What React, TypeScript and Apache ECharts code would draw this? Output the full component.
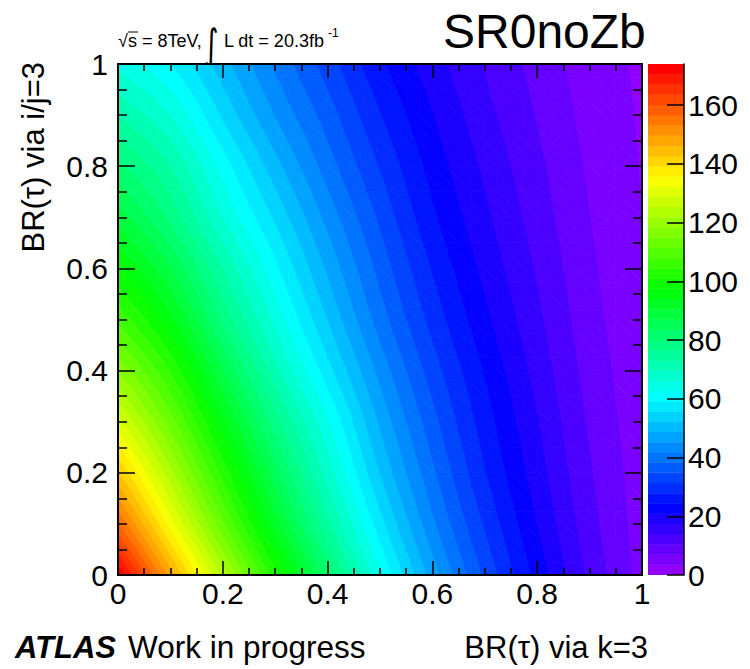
import React, { useEffect, useRef } from "react";
import * as echarts from "echarts";

const FONT = '"Liberation Sans", Arial, Helvetica, sans-serif';

// Grid nodes along BR(τ) via k=3 (x) and BR(τ) via i/j=3 (y)
const xNodes = [0, 0.1, 0.2, 0.3, 0.4, 0.5, 0.6, 0.7, 0.8, 0.9, 1.0];
const yNodes = [0, 0.1, 0.2, 0.3, 0.4, 0.5, 0.6, 0.7, 0.8, 0.9, 1.0];

// Expected yield at every node, one array per y row (x increasing)
const rowY00 = [174, 148, 124, 102, 82, 63, 47, 34, 23, 13, 5.5];
const rowY01 = [157, 134, 112, 92, 74, 57, 42.5, 30.8, 20.8, 11.8, 5.2];
const rowY02 = [143, 123, 103, 85, 68, 52, 39, 28, 19, 10.8, 5.0];
const rowY03 = [130, 113, 95, 78, 63, 48, 36, 26, 17.6, 9.9, 4.7];
const rowY04 = [118, 104, 87, 71, 57, 44, 33, 24, 16.1, 9.1, 4.4];
const rowY05 = [107, 95, 79, 65, 52, 40, 30, 21.8, 14.7, 8.3, 4.1];
const rowY06 = [98, 87, 73, 60, 48, 37, 27.5, 19.9, 13.5, 7.6, 3.8];
const rowY07 = [89, 79, 66, 55, 44, 34, 25, 18.2, 12.3, 7.0, 3.5];
const rowY08 = [81, 73, 61, 50, 40, 31, 23, 16.7, 11.3, 6.4, 3.3];
const rowY09 = [73, 66, 55, 45, 36.5, 28, 21, 15.1, 10.2, 5.8, 3.1];
const rowY10 = [65, 59, 50, 41, 33, 25, 19, 13.6, 9.2, 5.2, 2.9];
const zRows = [rowY00, rowY01, rowY02, rowY03, rowY04, rowY05, rowY06, rowY07, rowY08, rowY09, rowY10];

const nContours = 50;
const zAxisTicks = [0, 20, 40, 60, 80, 100, 120, 140, 160];

const xAxisTitle = "BR(τ) via k=3";
const yAxisTitle = "BR(τ) via i/j=3";
const regionName = "SR0noZb";

const zMax = Math.max(...zRows.flat());
const zStep = zMax / nContours;
const SUB = 4; // sub-steps per cell for the smooth contour surface

// Violet -> red spectrum, one colour per contour band
function bandColor(k: number): string {
  const h = 280 - ((k + 1) * 280) / nContours;
  const f = (n: number) => {
    const kk = (n + h / 30) % 12;
    return 0.5 - 0.5 * Math.max(-1, Math.min(kk - 3, 9 - kk, 1));
  };
  return `rgb(${Math.round(f(0) * 255)},${Math.round(f(8) * 255)},${Math.round(f(4) * 255)})`;
}

// node value with linear extension past the edges
function nodeZ(r: number, c: number): number {
  const nr = zRows.length;
  const nc = zRows[0].length;
  if (r < 0) return 2 * nodeZ(0, c) - nodeZ(1, c);
  if (r > nr - 1) return 2 * nodeZ(nr - 1, c) - nodeZ(nr - 2, c);
  if (c < 0) return 2 * nodeZ(r, 0) - nodeZ(r, 1);
  if (c > nc - 1) return 2 * nodeZ(r, nc - 1) - nodeZ(r, nc - 2);
  return zRows[r][c];
}

function catmull(p0: number, p1: number, p2: number, p3: number, t: number): number {
  return 0.5 * (2 * p1 + (-p0 + p2) * t + (2 * p0 - 5 * p1 + 4 * p2 - p3) * t * t + (-p0 + 3 * p1 - 3 * p2 + p3) * t * t * t);
}

// smooth surface inside cell (i, j) at fractional position (tx, ty)
function surface(i: number, j: number, tx: number, ty: number): number {
  const rows = [-1, 0, 1, 2].map((dr) =>
    catmull(nodeZ(j + dr, i - 1), nodeZ(j + dr, i), nodeZ(j + dr, i + 1), nodeZ(j + dr, i + 2), tx)
  );
  return catmull(rows[0], rows[1], rows[2], rows[3], ty);
}

type P = [number, number, number];

// keep the part of a polygon where v >= t (above) or v <= t (below)
function clipPoly(poly: P[], t: number, above: boolean): P[] {
  const out: P[] = [];
  for (let i = 0; i < poly.length; i++) {
    const a = poly[i];
    const b = poly[(i + 1) % poly.length];
    const ina = above ? a[2] >= t : a[2] <= t;
    const inb = above ? b[2] >= t : b[2] <= t;
    if (ina) out.push(a);
    if (ina !== inb) {
      const f = (t - a[2]) / (b[2] - a[2]);
      out.push([a[0] + f * (b[0] - a[0]), a[1] + f * (b[1] - a[1]), t]);
    }
  }
  return out;
}

function bandPolygons(tri: P[]) {
  const vs = tri.map((p) => p[2]);
  const vmin = Math.min(...vs);
  const vmax = Math.max(...vs);
  const kMin = Math.max(0, Math.floor(vmin / zStep));
  const kMax = Math.min(nContours - 1, Math.floor(vmax / zStep));
  const out: { k: number; points: number[][] }[] = [];
  for (let k = kMin; k <= kMax; k++) {
    let poly = tri;
    if (k > 0) poly = clipPoly(poly, k * zStep, true);
    if (k < nContours - 1) poly = clipPoly(poly, (k + 1) * zStep, false);
    if (poly.length >= 3) out.push({ k, points: poly.map((p) => [p[0], p[1]]) });
  }
  return out;
}

const cellData: number[][] = [];
for (let j = 0; j < yNodes.length - 1; j++) {
  for (let i = 0; i < xNodes.length - 1; i++) {
    cellData.push([xNodes[i], yNodes[j], xNodes[i + 1], yNodes[j + 1], i, j]);
  }
}

// colour-scale bands: [x centre, lower edge, upper edge, band index]
const paletteData = Array.from({ length: nContours }, (_, k) => [0.5, k * zStep, (k + 1) * zStep, k]);

const txt = (extra: any) => ({
  fill: "#000",
  fontFamily: FONT,
  align: "left",
  verticalAlign: "middle",
  textAlign: "left",
  textVerticalAlign: "middle",
  ...extra,
});

export default function App() {
  const ref = useRef<HTMLDivElement>(null);

  useEffect(() => {
    if (!ref.current) return;
    const chart = echarts.init(ref.current, null, { renderer: "svg" });

    const tickLine = { color: "#000", width: 1.5 };
    const frameLine = { show: true, onZero: false, lineStyle: { color: "#000", width: 2 } };

    const xTicks = {
      axisTick: { show: true, inside: true, length: 14, lineStyle: tickLine },
      minorTick: { show: true, splitNumber: 4, length: 7, lineStyle: tickLine },
    };
    const yTicks = {
      axisTick: { show: true, inside: true, length: 17, lineStyle: tickLine },
      minorTick: { show: true, splitNumber: 4, length: 9, lineStyle: tickLine },
    };
    const labelStyle = { color: "#000", fontSize: 30, fontFamily: FONT };

    chart.setOption({
      animation: false,
      backgroundColor: "#fff",
      grid: [
        { left: 118, top: 64, width: 524, height: 511 },
        { left: 648, top: 64, width: 36, height: 511 },
      ],
      xAxis: [
        {
          type: "value", gridIndex: 0, position: "bottom", min: 0, max: 1, interval: 0.2, z: 5,
          axisLine: frameLine, ...xTicks, splitLine: { show: false },
          axisLabel: { ...labelStyle, margin: 3 },
        },
        {
          type: "value", gridIndex: 0, position: "top", min: 0, max: 1, interval: 0.2, z: 5,
          axisLine: frameLine, ...xTicks, splitLine: { show: false },
          axisLabel: { show: false },
        },
        { type: "value", gridIndex: 1, min: 0, max: 1, show: false },
      ],
      yAxis: [
        {
          type: "value", gridIndex: 0, position: "left", min: 0, max: 1, interval: 0.2, z: 5,
          axisLine: frameLine, ...yTicks, splitLine: { show: false },
          axisLabel: { ...labelStyle, margin: 10 },
        },
        {
          type: "value", gridIndex: 0, position: "right", min: 0, max: 1, interval: 0.2, z: 5,
          axisLine: frameLine, ...yTicks, splitLine: { show: false },
          axisLabel: { show: false },
        },
        {
          type: "value", gridIndex: 1, position: "right", min: 0, max: zMax, z: 5,
          axisLine: { show: true, onZero: false, lineStyle: { color: "#000", width: 1.5 } },
          axisTick: { show: true, inside: true, length: 17, lineStyle: tickLine, customValues: zAxisTicks },
          minorTick: { show: false },
          splitLine: { show: false },
          axisLabel: { ...labelStyle, margin: 4, customValues: zAxisTicks },
        },
      ],
      series: [
        {
          type: "custom",
          xAxisIndex: 0,
          yAxisIndex: 0,
          clip: true,
          silent: true,
          encode: { x: [0, 2], y: [1, 3] },
          data: cellData,
          renderItem: (_params: any, api: any) => {
            const x0 = api.value(0), y0 = api.value(1), x1 = api.value(2), y1 = api.value(3);
            const ci = api.value(4), cj = api.value(5);
            const pts: P[][] = [];
            for (let a = 0; a <= SUB; a++) {
              pts.push([]);
              for (let b = 0; b <= SUB; b++) {
                const px = api.coord([x0 + ((x1 - x0) * a) / SUB, y0 + ((y1 - y0) * b) / SUB]);
                pts[a].push([px[0], px[1], surface(ci, cj, a / SUB, b / SUB)]);
              }
            }
            const children: any[] = [];
            for (let a = 0; a < SUB; a++) {
              for (let b = 0; b < SUB; b++) {
                const tris: P[][] = [
                  [pts[a][b], pts[a + 1][b], pts[a][b + 1]],
                  [pts[a + 1][b], pts[a + 1][b + 1], pts[a][b + 1]],
                ];
                tris.forEach((t) =>
                  bandPolygons(t).forEach((bp) => {
                    const col = bandColor(bp.k);
                    children.push({
                      type: "polygon",
                      shape: { points: bp.points },
                      style: { fill: col, stroke: col, lineWidth: 0.8 },
                    });
                  })
                );
              }
            }
            return { type: "group", children };
          },
        },
        {
          type: "custom",
          xAxisIndex: 2,
          yAxisIndex: 2,
          clip: true,
          silent: true,
          encode: { x: 0, y: [1, 2] },
          data: paletteData,
          renderItem: (_params: any, api: any) => {
            const k = api.value(3);
            const p0 = api.coord([0, api.value(1)]);
            const p1 = api.coord([1, api.value(2)]);
            const col = bandColor(k);
            return {
              type: "rect",
              shape: { x: p0[0], y: p1[1], width: p1[0] - p0[0], height: p0[1] - p1[1] },
              style: { fill: col, stroke: col, lineWidth: 0.5, opacity: 1 },
            };
          },
        },
      ],
      graphic: [
        { type: "text", x: 443, y: 31, style: txt({ text: regionName, fontSize: 48 }) },
        { type: "text", x: 118, y: 41, style: txt({ text: "√s = 8TeV,", fontSize: 18 }) },
        { type: "line", shape: { x1: 128, y1: 32, x2: 138, y2: 32 }, style: { stroke: "#000", lineWidth: 1 } },
        {
          type: "text", x: 204, y: 44, scaleY: 1.5,
          style: txt({ text: "∫", fontSize: 28, fontFamily: '"DejaVu Sans", sans-serif' }),
        },
        { type: "text", x: 224, y: 41, style: txt({ text: "L dt = 20.3fb", fontSize: 18 }) },
        { type: "text", x: 328, y: 33, style: txt({ text: "-1", fontSize: 12 }) },
        {
          type: "text", x: 33, y: 62, rotation: Math.PI / 2,
          style: txt({ text: yAxisTitle, fontSize: 31, align: "right", textAlign: "right" }),
        },
        {
          type: "text", x: 648, y: 647,
          style: txt({ text: xAxisTitle, fontSize: 31, align: "right", textAlign: "right" }),
        },
        {
          type: "text", x: 15, y: 647,
          style: txt({ text: "ATLAS", fontSize: 31, fontWeight: "bold", fontStyle: "italic" }),
        },
        { type: "text", x: 128, y: 647, style: txt({ text: "Work in progress", fontSize: 31.5 }) },
      ],
    });

    return () => chart.dispose();
  }, []);

  return (
    <div
      ref={ref}
      style={{ position: "fixed", left: 0, top: 0, width: 750, height: 669, background: "#fff" }}
    />
  );
}
